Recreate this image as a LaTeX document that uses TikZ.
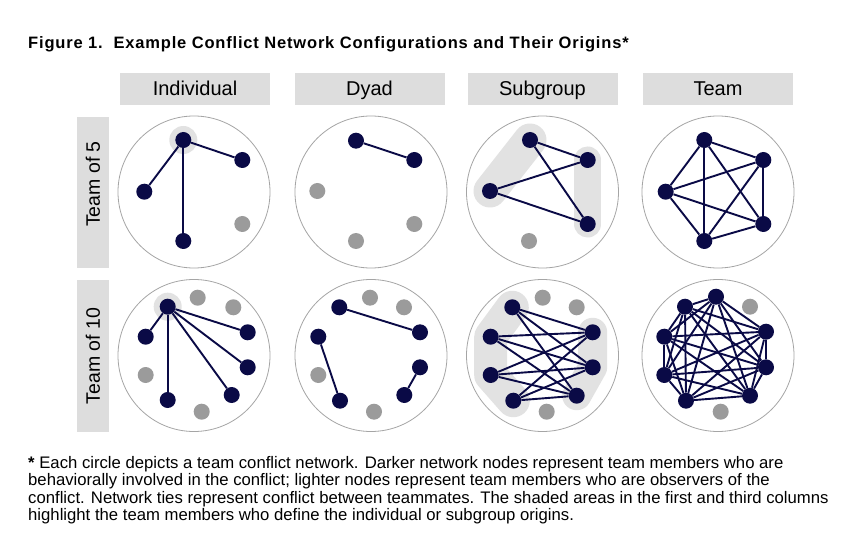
\documentclass[tikz,border=0pt]{standalone}
\usepackage{fontspec}
\setmainfont{Liberation Sans}
\usetikzlibrary{backgrounds}

\definecolor{navy}{RGB}{10,10,70}
\definecolor{obsgray}{RGB}{155,155,155}
\definecolor{boxgray}{RGB}{221,221,221}
\definecolor{haze}{RGB}{226,226,226}
\definecolor{rimgray}{RGB}{165,165,165}

\tikzset{
  actor/.style={circle,fill=navy,inner sep=0pt,minimum size=16pt},
  observer/.style={circle,fill=obsgray,inner sep=0pt,minimum size=16pt},
  tie/.style={navy,line width=1.9pt},
  rim/.style={circle,draw=rimgray,line width=0.8pt,minimum size=152pt,inner sep=0pt},
  band/.style={draw=haze,line cap=round,line join=round},
  header/.style={fill=boxgray,minimum width=150pt,minimum height=32pt,
    text height=15pt,text depth=1pt,font=\fontsize{20}{24}\selectfont},
  rowbox/.style={fill=boxgray,minimum width=32pt,inner sep=0pt},
  rowlabel/.style={rotate=90,font=\fontsize{19.5}{24}\selectfont},
  note/.style={anchor=base west,inner sep=0pt,font=\fontsize{16.7}{18}\selectfont},
}

\begin{document}
\begin{tikzpicture}[x=1pt,y=-1pt]
  \useasboundingbox (0,0) rectangle (849,548);

  \node[anchor=base west,inner sep=0pt,font=\bfseries\fontsize{16.5}{18}\selectfont\addfontfeature{LetterSpace=5}]
    (title) at (28,49) {Figure 1.\ \ Example Conflict Network Configurations and Their Origins*};

  % column and row headings
  \foreach \x/\t in {195/Individual,369.5/Dyad,542.5/Subgroup,718/Team}
    \node[header] (h-\t) at (\x,89) {\t};
  \node[rowbox,minimum height=151pt] (r5) at (93,192.5) {};
  \node[rowbox,minimum height=152pt] (r10) at (93,356) {};
  \node[rowlabel] (l5) at (93,184) {Team of 5};
  \node[rowlabel] (l10) at (93,356) {Team of 10};

  % panels
  \foreach \x in {194,371,542.5,718}
    \foreach \y in {192,355.5}
      \node[rim] (p-\x-\y) at (\x,\y) {};

  % team of 5, individual
  \node[actor] (in1) at (183.3,140) {};
  \node[actor] (in2) at (242.3,160) {};
  \node[actor] (in3) at (144.3,191.7) {};
  \node[actor] (in4) at (183.3,241) {};
  \node[observer] (in5) at (242.3,224) {};
  \foreach \b in {in2,in3,in4}
    \draw[tie] (in1) -- (\b);

  % team of 5, dyad
  \node[actor] (dy1) at (356,140.7) {};
  \node[actor] (dy2) at (414.3,160) {};
  \node[observer] (dy3) at (317.3,191) {};
  \node[observer] (dy4) at (356,241) {};
  \node[observer] (dy5) at (414.3,224) {};
  \draw[tie] (dy1) -- (dy2);

  % team of 5, subgroup
  \node[actor] (sg1) at (530,140) {};
  \node[actor] (sg2) at (587.7,160) {};
  \node[actor] (sg3) at (490,191) {};
  \node[actor] (sg4) at (587.7,224) {};
  \node[observer] (sg5) at (529,241) {};
  \foreach \a/\b in {sg1/sg2,sg1/sg4,sg3/sg2,sg3/sg4}
    \draw[tie] (\a) -- (\b);

  % team of 5, team
  \node[actor] (tm1) at (704.3,140) {};
  \node[actor] (tm2) at (763.3,160) {};
  \node[actor] (tm3) at (665.7,191.7) {};
  \node[actor] (tm4) at (763.3,224) {};
  \node[actor] (tm5) at (704.3,241) {};
  \foreach \i in {1,...,4}{
    \pgfmathtruncatemacro\j{\i+1}
    \foreach \k in {\j,...,5}
      \draw[tie] (tm\i) -- (tm\k);
  }

  % team of 10, individual
  \node[actor] (iv1) at (167.7,306.7) {};
  \node[observer] (iv2) at (197.7,297.7) {};
  \node[observer] (iv3) at (233.3,307.3) {};
  \node[actor] (iv4) at (247.7,332.3) {};
  \node[actor] (iv5) at (145.7,336.7) {};
  \node[actor] (iv6) at (247.7,367.3) {};
  \node[observer] (iv7) at (145.7,375) {};
  \node[actor] (iv8) at (231.7,395) {};
  \node[actor] (iv9) at (167.7,400) {};
  \node[observer] (iv10) at (201.7,411.7) {};
  \foreach \b in {iv4,iv5,iv6,iv8,iv9}
    \draw[tie] (iv1) -- (\b);

  % team of 10, dyad
  \node[actor] (dv1) at (339.3,307.3) {};
  \node[observer] (dv2) at (370,297.7) {};
  \node[observer] (dv3) at (404,307.3) {};
  \node[actor] (dv4) at (420,332.3) {};
  \node[actor] (dv5) at (318.3,336.7) {};
  \node[actor] (dv6) at (420,367.3) {};
  \node[observer] (dv7) at (318.3,375) {};
  \node[actor] (dv8) at (404.3,395) {};
  \node[actor] (dv9) at (340,400.7) {};
  \node[observer] (dv10) at (374,411.7) {};
  \foreach \a/\b in {dv1/dv4,dv5/dv9,dv6/dv8}
    \draw[tie] (\a) -- (\b);

  % team of 10, subgroup
  \node[actor] (sl1) at (512.3,307.3) {};
  \node[actor] (sl2) at (490.7,336.7) {};
  \node[actor] (sl3) at (490.7,375) {};
  \node[actor] (sl4) at (513.3,400.7) {};
  \node[actor] (sr1) at (592.7,332.3) {};
  \node[actor] (sr2) at (592.7,367.3) {};
  \node[actor] (sr3) at (576.7,395.7) {};
  \node[observer] (so1) at (542.7,297.7) {};
  \node[observer] (so2) at (576.7,307.3) {};
  \node[observer] (so3) at (546.7,411.7) {};
  \foreach \a in {1,...,4}
    \foreach \b in {1,2,3}
      \draw[tie] (sl\a) -- (sr\b);

  % team of 10, team
  \node[actor] (tv1) at (685,306.7) {};
  \node[actor] (tv2) at (716,296.7) {};
  \node[actor] (tv3) at (766,331.7) {};
  \node[actor] (tv4) at (664.3,336.7) {};
  \node[actor] (tv5) at (766,367.3) {};
  \node[actor] (tv6) at (664.3,375) {};
  \node[actor] (tv7) at (750,395.7) {};
  \node[actor] (tv8) at (686,400.7) {};
  \node[observer] (to1) at (750,306.7) {};
  \node[observer] (to2) at (720.7,411.7) {};
  \foreach \i in {1,...,7}{
    \pgfmathtruncatemacro\j{\i+1}
    \foreach \k in {\j,...,8}
      \draw[tie] (tv\i) -- (tv\k);
  }

  % origins
  \begin{scope}[on background layer]
    \fill[white] (0,0) rectangle (849,548);
    \fill[haze] (in1.center) circle (14);
    \fill[haze] (iv1.center) circle (14);
    \draw[band,line width=33pt] (sg1.center) -- (sg3.center);
    \draw[band,line width=27pt] (sg2.center) -- (sg4.center);
    \draw[band,line width=33pt] (sl1.center) -- (sl2.center) -- (sl3.center) -- (sl4.center);
    \draw[band,line width=29pt] (sr1.center) -- (sr2.center) -- (sr3.center);
  \end{scope}

  % footnote
  \node[note] (n1) at (28,468.3) {\textbf{*} Each circle depicts a team conflict network. Darker network nodes represent team members who are};
  \node[note] (n2) at (28,485.8) {behaviorally involved in the conflict; lighter nodes represent team members who are observers of the};
  \node[note] (n3) at (28,503.3) {conflict. Network ties represent conflict between teammates. The shaded areas in the first and third columns};
  \node[note] (n4) at (28,520.8) {highlight the team members who define the individual or subgroup origins.};
\end{tikzpicture}
\end{document}
